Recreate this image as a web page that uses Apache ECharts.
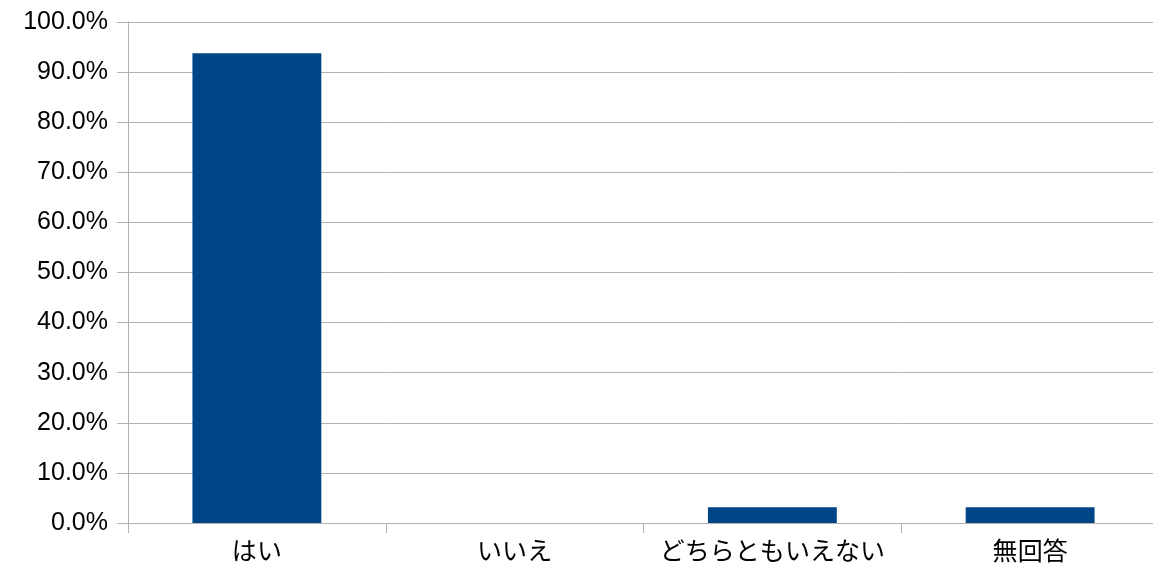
<!DOCTYPE html>
<html>
<head>
<meta charset="utf-8">
<script src="https://cdn.jsdelivr.net/npm/echarts@6/dist/echarts.min.js"></script>
<style>
html, body { margin: 0; padding: 0; background: #fff; }
#main { width: 1153px; height: 576px; }
</style>
</head>
<body>
<div id="main"></div>
<script>
var categories = ['はい', 'いいえ', 'どちらともいえない', '無回答'];
var answerShare = [93.75, 0, 3.125, 3.125];
var yTicks = [0, 10, 20, 30, 40, 50, 60, 70, 80, 90, 100];

var myChart = echarts.init(document.getElementById('main'));
var option = {
    animation: false,
    grid: {
        left: 128,
        width: 1031,
        top: 22,
        bottom: 53,
        containLabel: false,
        outerBoundsMode: 'none'
    },
    xAxis: {
        type: 'category',
        data: categories,
        axisLine: { lineStyle: { color: '#b3b3b3', width: 1 } },
        axisTick: { show: true, interval: 0, length: 10, lineStyle: { color: '#b3b3b3' } },
        axisLabel: {
            interval: 0,
            color: '#000',
            fontSize: 25,
            margin: 15,
            fontFamily: '"Noto Sans CJK JP", sans-serif'
        }
    },
    yAxis: {
        type: 'value',
        min: yTicks[0],
        max: yTicks[yTicks.length - 1],
        interval: 10,
        axisLine: { show: true, lineStyle: { color: '#b3b3b3', width: 1 } },
        axisTick: { show: true, length: 11, lineStyle: { color: '#b3b3b3' } },
        splitLine: { lineStyle: { color: '#b3b3b3', width: 1 } },
        axisLabel: {
            color: '#000',
            fontSize: 25,
            margin: 20,
            fontFamily: '"Liberation Sans", Arial, sans-serif',
            formatter: function (v) { return v.toFixed(1) + '%'; }
        }
    },
    series: [
        {
            type: 'bar',
            data: answerShare,
            barWidth: '50%',
            itemStyle: { color: '#004586' }
        }
    ]
};
myChart.setOption(option);
</script>
</body>
</html>
